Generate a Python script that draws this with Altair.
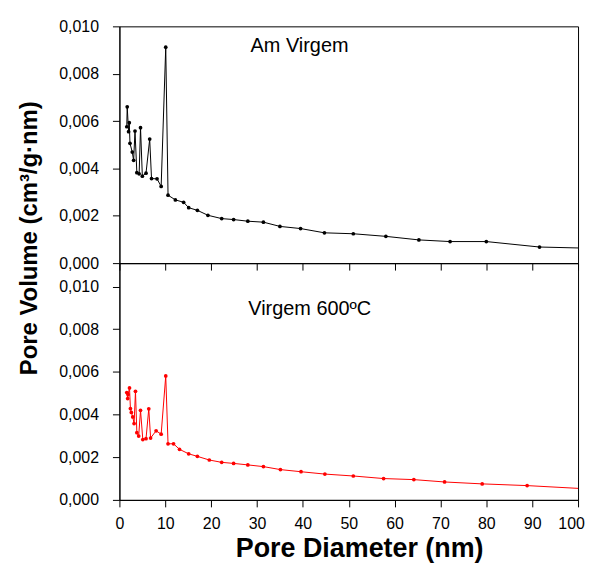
import altair as alt
import pandas as pd

# Am Virgem (black)
top_x = [1.6, 1.7, 2.0, 2.15, 2.3, 2.8, 3.1, 3.4, 3.8, 4.3, 4.6, 5.0, 5.8, 6.6, 7.0, 8.2, 9.1,
         10.1, 10.6, 12.2, 14.0, 15.1, 17.0, 19.3, 22.3, 24.9, 28.0, 31.4, 35.0, 39.5, 44.7,
         51.0, 58.1, 65.3, 72.1, 80.0, 91.6, 100.0]
top_y = [0.00576, 0.00660, 0.00555, 0.00593, 0.00506, 0.00469, 0.00434, 0.00558, 0.00382,
         0.00377, 0.00572, 0.00367, 0.00380, 0.00524, 0.00357, 0.00356, 0.00324, 0.00912,
         0.00287, 0.00267, 0.00257, 0.00234, 0.00223, 0.00202, 0.00188, 0.00184, 0.00177,
         0.00173, 0.00155, 0.00146, 0.00128, 0.00124, 0.00113, 0.00098, 0.00091, 0.00091,
         0.00068, 0.00064]

# Virgem 600ºC (red)
bot_x = [1.6, 1.8, 1.9, 2.2, 2.4, 2.6, 2.9, 3.2, 3.5, 3.8, 4.2, 4.6, 5.1, 5.8, 6.4, 6.8, 8.0,
         9.1, 10.1, 10.6, 11.8, 13.1, 15.1, 17.0, 19.6, 22.3, 24.9, 28.0, 31.4, 35.1, 39.6,
         44.8, 51.0, 57.6, 64.2, 70.9, 79.1, 88.9, 100.0]
bot_y = [0.00503, 0.00475, 0.00494, 0.00525, 0.00428, 0.00410, 0.00389, 0.00358, 0.00509,
         0.00315, 0.00299, 0.00420, 0.00283, 0.00287, 0.00427, 0.00290, 0.00324, 0.00308,
         0.00581, 0.00263, 0.00263, 0.00237, 0.00216, 0.00204, 0.00187, 0.00176, 0.00171,
         0.00164, 0.00156, 0.00142, 0.00132, 0.00121, 0.00112, 0.00100, 0.00095, 0.00084,
         0.00075, 0.00067, 0.00054]

labels = ["Am Virgem", "Virgem 600ºC"]

x_ticks = list(range(0, 101, 5))
y_ticks = [round(i * 0.001, 3) for i in range(11)]

FONT = "Liberation Sans"

def panel(xs, ys, color, ymax, label, lx, ly, show_x):
    df = pd.DataFrame({"d": xs, "v": ys, "i": list(range(len(xs)))})
    xscale = alt.Scale(domain=[0, 100], nice=False, zero=False)
    yscale = alt.Scale(domain=[0, ymax], nice=False)
    xaxis = alt.Axis(
        values=x_ticks,
        grid=False,
        tickSize={"condition": {"test": "datum.value % 10 === 0", "value": 7}, "value": 4},
        labelExpr="datum.value % 10 === 0 ? datum.label : ''",
        labels=show_x,
        labelFlush=False,
        labelOffset={"condition": {"test": "datum.value === 100", "value": -7}, "value": 0},
        labelPadding=9,
        titleFontSize=27,
        titleFontWeight="bold",
        titlePadding=4,
        titleX=241,
    )
    yaxis = alt.Axis(
        values=y_ticks,
        grid=False,
        tickSize={"condition": {"test": "round(datum.value * 1000) % 2 === 0", "value": 7}, "value": 4},
        labelExpr="round(datum.value * 1000) % 2 === 0 ? replace(format(datum.value, '.3f'), '.', ',') : ''",
        labelPadding=14,
    )
    x_enc = alt.X("d:Q", scale=xscale, axis=xaxis,
                  title="Pore Diameter (nm)" if show_x else None)
    y_enc = alt.Y("v:Q", scale=yscale, axis=yaxis, title=None)
    line = alt.Chart(df).mark_line(color=color, strokeWidth=1, clip=True).encode(
        x=x_enc, y=y_enc, order="i:Q")
    pts = alt.Chart(df).transform_filter("datum.d < 100").mark_circle(
        color=color, size=14, opacity=1).encode(x=x_enc, y=y_enc)
    tdf = pd.DataFrame({"t": [label]})
    txt = alt.Chart(tdf).mark_text(align="left", baseline="middle", fontSize=20,
                                   font=FONT, color="black").encode(
        x=alt.datum(lx), y=alt.datum(ly), text="t:N")
    return alt.layer(line, pts, txt).properties(width=461, height=238)

top = panel(top_x, top_y, "#000000", 0.010, labels[0], 28.6, 0.00916, False)
bot = panel(bot_x, bot_y, "#ff0000", 0.0111, labels[1], 28.1, 0.00897, True)

chart = alt.vconcat(top, bot, spacing=0, bounds="flush").properties(
    title=alt.TitleParams("Pore Volume (cm³/g·nm)", orient="left", anchor="middle",
                          fontSize=24, font=FONT, fontWeight="bold", color="black",
                          offset=16, dx=52),
    padding={"left": 10, "top": 8, "right": 0, "bottom": 0},
    background="white",
).configure_view(stroke="black", strokeWidth=1).configure_axis(
    labelFont=FONT, labelFontSize=16, labelColor="black",
    titleFont=FONT, titleColor="black",
    domainColor="black", domainWidth=1, tickColor="black", tickWidth=1,
)

chart.save("out.html", embed_options={"renderer": "svg", "actions": False})
